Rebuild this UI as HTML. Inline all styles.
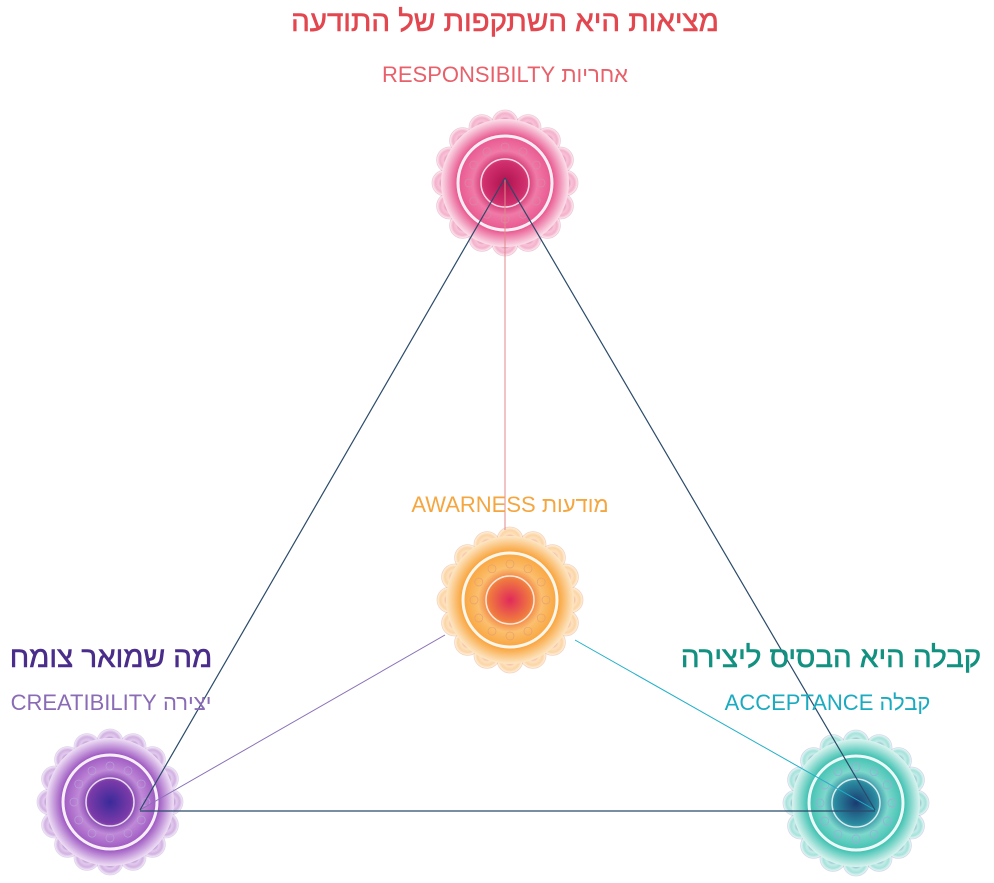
<!DOCTYPE html>
<html><head><meta charset="utf-8"><style>
body{margin:0;width:994px;height:883px;background:#fff;overflow:hidden;position:relative;font-family:"Liberation Sans",sans-serif}
.t{position:absolute;white-space:nowrap;direction:rtl;text-align:center}
svg{position:absolute;left:0;top:0}
</style></head><body>
<svg width="994" height="883" viewBox="0 0 994 883">
<defs>
<radialGradient id="gp"><stop offset="0" stop-color="#b0124f"/><stop offset=".33" stop-color="#d0306e"/><stop offset=".5" stop-color="#f07aa8"/><stop offset=".75" stop-color="#e8558e"/><stop offset="1" stop-color="#fbe0ea"/></radialGradient>
<radialGradient id="go"><stop offset="0" stop-color="#e02a5a"/><stop offset=".33" stop-color="#f07a40"/><stop offset=".5" stop-color="#fbc070"/><stop offset=".75" stop-color="#f9a33a"/><stop offset="1" stop-color="#fde7c6"/></radialGradient>
<radialGradient id="gv"><stop offset="0" stop-color="#3a2a9a"/><stop offset=".33" stop-color="#7a3aa8"/><stop offset=".5" stop-color="#c08ad8"/><stop offset=".75" stop-color="#9c55c0"/><stop offset="1" stop-color="#efe0f6"/></radialGradient>
<radialGradient id="gt"><stop offset="0" stop-color="#1a3a70"/><stop offset=".33" stop-color="#2a8aa0"/><stop offset=".5" stop-color="#7ed8cc"/><stop offset=".75" stop-color="#3cc0b0"/><stop offset="1" stop-color="#dcf4f0"/></radialGradient>
</defs>
<g id="mand"></g>
<line x1="505" y1="178" x2="505" y2="530" stroke="#e08a8a" stroke-width="1"/>
<line x1="445" y1="635" x2="140" y2="810" stroke="#8a70b8" stroke-width="1"/>
<line x1="575" y1="640" x2="875" y2="810" stroke="#20b0c8" stroke-width="1"/>
<line x1="505" y1="178" x2="140" y2="810" stroke="#2a4a6a" stroke-width="1.2"/>
<line x1="505" y1="178" x2="875" y2="810" stroke="#2a4a6a" stroke-width="1.2"/>
<line x1="140" y1="811" x2="875" y2="811" stroke="#2a4a6a" stroke-width="1.3"/>
</svg>
<div class="t" style="left:250px;top:5px;width:510px;font-size:29.5px;color:#e2474f;-webkit-text-stroke:.6px #e2474f">מציאות היא השתקפות של התודעה</div>
<div class="t" style="left:320px;top:62px;width:370px;font-size:22px;color:#e8606a">אחריות RESPONSIBILTY</div>
<div class="t" style="left:360px;top:492px;width:300px;font-size:22px;color:#f5a63f">מודעות AWARNESS</div>
<div class="t" style="left:0px;top:641px;width:222px;font-size:29.5px;color:#4a2d8a;-webkit-text-stroke:.6px #4a2d8a">מה שמואר צומח</div>
<div class="t" style="left:0px;top:690px;width:222px;font-size:22px;color:#8a6bb5">יצירה CREATIBILITY</div>
<div class="t" style="left:671px;top:641px;width:320px;font-size:29.5px;color:#129080;-webkit-text-stroke:.6px #129080">קבלה היא הבסיס ליצירה</div>
<div class="t" style="left:680px;top:690px;width:295px;font-size:22px;color:#1aabc0">קבלה ACCEPTANCE</div>
<script>
var m=[[505,183,'gp','#d88aa8'],[510,600,'go','#e8a070'],[110,802,'gv','#b8a0d8'],[856,803,'gt','#a0a8d8']];
var s='';
m.forEach(function(a){
 var x=a[0],y=a[1];
 s+='<g transform="translate('+x+','+y+')">';
 for(var i=0;i<16;i++){var an=i*Math.PI/8;s+='<circle cx="'+(60*Math.cos(an)).toFixed(1)+'" cy="'+(60*Math.sin(an)).toFixed(1)+'" r="13" fill="url(#'+a[2]+')" stroke="'+a[3]+'" stroke-width=".8" opacity=".45"/>';}
 s+='<circle r="64" fill="url(#'+a[2]+')"/>';
 s+='<circle r="47" fill="none" stroke="#fff" stroke-width="3" opacity=".9"/>';
 s+='<circle r="24" fill="none" stroke="#fff" stroke-width="1.5" opacity=".8"/>';
 for(var i=0;i<12;i++){var an=i*Math.PI/6;s+='<circle cx="'+(36*Math.cos(an)).toFixed(1)+'" cy="'+(36*Math.sin(an)).toFixed(1)+'" r="4" fill="none" stroke="'+a[3]+'" stroke-width=".7"/>';}
 s+='</g>';
});
document.getElementById('mand').innerHTML=s;
</script>
</body></html>
